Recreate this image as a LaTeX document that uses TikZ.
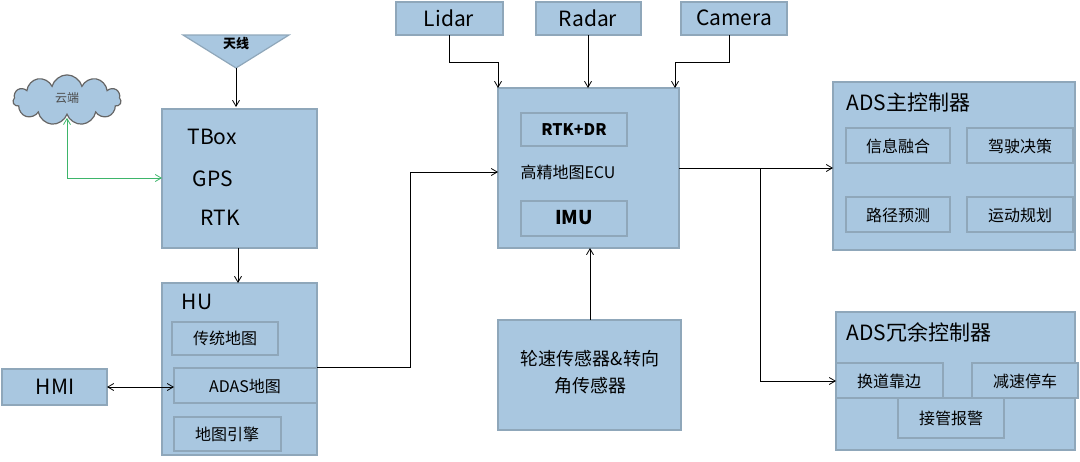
\documentclass[tikz,border=0pt]{standalone}
\usepackage{fontspec}
\setmainfont{Noto Sans CJK SC}
\usetikzlibrary{shapes.symbols,arrows.meta}
\definecolor{bf}{HTML}{A9C7E0}
\definecolor{bd}{HTML}{8FA7BA}
\definecolor{gr}{HTML}{3DB56A}
\begin{document}
\begin{tikzpicture}[x=1pt,y=-1pt,
 box/.style={draw=bd,fill=bf,line width=1.2pt},
 t/.style={font=\fontsize{16}{18}\selectfont},
 tb/.style={font=\fontsize{21}{23}\selectfont},
 ar/.style={-{Straight Barb[length=6pt,width=7pt]},line width=0.8pt}]
\useasboundingbox (0,0) rectangle (1080,461);
% antenna
\path[box] (183,35) -- (289,35) -- (236,68) -- cycle;
\node[font=\bfseries\fontsize{13}{14}\selectfont] (ant) at (236,44) {天线};
\coordinate (antp) at (236,68);
% cloud
\node[cloud,cloud puffs=11,aspect=2.8,draw=gray!80!black,fill=bf,line width=1.2pt,minimum width=108pt,minimum height=40pt,font=\fontsize{12}{13}\selectfont,text=gray!60!black] (cloud) at (67,100) {\raisebox{6pt}{云端}};
% TBox
\draw[box] (162,109) rectangle (317,248);
\node[tb] (tbox) at (212,137) {TBox};
\node[tb] (gps) at (213,179) {GPS};
\node[tb] (rtk) at (220,218) {RTK};
\coordinate (tbl) at (162,178);
\coordinate (tbb) at (238,248);
% HU
\draw[box] (162,283) rectangle (317,455);
\node[tb] (hu) at (197,302) {HU};
\draw[box] (172,322) rectangle (278,355); \node[t] (m1) at (225,338) {传统地图};
\draw[box] (174,368) rectangle (317,403); \node[t] (m2) at (245,386) {ADAS地图};
\draw[box] (174,417) rectangle (281,451); \node[t] (m3) at (227,434) {地图引擎};
\coordinate (hut) at (238,283);
% HMI
\draw[box] (2,369) rectangle (107,405); \node[tb] (hmi) at (55,387) {HMI};
% sensors
\draw[box] (396,2) rectangle (503,35); \node[tb] (lidar) at (449,18) {Lidar};
\draw[box] (536,2) rectangle (641,35); \node[tb] (radar) at (588,18) {Radar};
\draw[box] (681,2) rectangle (787,35); \node[tb] (cam) at (734,18) {Camera};
% ECU
\draw[box] (498,88) rectangle (679,248);
\draw[box] (521,113) rectangle (627,146); \node[font=\bfseries\fontsize{16}{18}\selectfont] (rtkdr) at (574,130) {RTK+DR};
\node[t] (ecu) at (568,172) {高精地图ECU};
\draw[box] (521,201) rectangle (627,236); \node[font=\bfseries\fontsize{19}{21}\selectfont] (imu) at (574,218) {IMU};
% wheel
\draw[box] (498,320) rectangle (681,430);
\node[font=\fontsize{18}{27}\selectfont,align=center] (wheel) at (590,372) {轮速传感器\&转向\\角传感器};
% ADS main
\draw[box] (833,82) rectangle (1075,250);
\node[tb,anchor=west] (ads1) at (843,103) {ADS主控制器};
\draw[box] (846,128) rectangle (950,163); \node[t] at (898,146) {信息融合};
\draw[box] (967,128) rectangle (1073,163); \node[t] at (1020,146) {驾驶决策};
\draw[box] (846,197) rectangle (950,232); \node[t] at (898,215) {路径预测};
\draw[box] (967,197) rectangle (1073,232); \node[t] at (1020,215) {运动规划};
% ADS redundant
\draw[box] (836,312) rectangle (1075,450);
\node[tb,anchor=west] (ads2) at (843,332) {ADS冗余控制器};
\draw[box] (898,398) rectangle (1004,438); \node[t] at (951,418) {接管报警};
\draw[box] (836,363) rectangle (943,398); \node[t] at (889,381) {换道靠边};
\draw[box] (972,363) rectangle (1078,398); \node[t] at (1025,381) {减速停车};
% connectors
\draw[ar] (antp) -- (236,107);
\draw[ar] (tbb) -- (hut);
\draw[ar,gr,{Straight Barb[length=6pt,width=7pt]}-{Straight Barb[length=6pt,width=7pt]}] (cloud.south) ++(0,2) |- (tbl);
\draw[ar,{Straight Barb[length=6pt,width=7pt]}-{Straight Barb[length=6pt,width=7pt]}] (107,387) -- (174,387);
\draw[ar] (317,367) -- (410,367) -- (410,172) -- (498,172);
\draw[ar] (449,35) -- (449,62) -- (498,62) -- (498,88);
\draw[ar] (588,35) -- (588,88);
\draw[ar] (729,35) -- (729,62) -- (675,62) -- (675,88);
\draw[ar] (590,320) -- (590,248);
\draw[ar] (679,168) -- (833,168);
\draw[ar] (760,168) -- (760,381) -- (836,381);
\end{tikzpicture}
\end{document}
